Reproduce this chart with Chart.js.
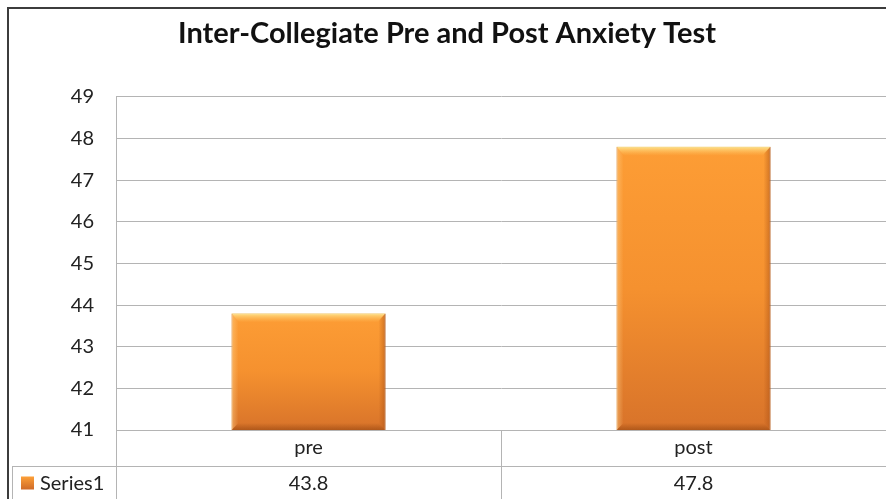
<!DOCTYPE html>
<html>
<head>
<meta charset="utf-8">
<title>Inter-Collegiate Pre and Post Anxiety Test</title>
<script src="https://cdn.jsdelivr.net/npm/chart.js@4/dist/chart.umd.min.js"></script>
<style>
  html, body { margin: 0; padding: 0; background: #fff; }
  #wrap { position: relative; width: 886px; height: 499px; }
</style>
</head>
<body>
<div id="wrap"><canvas id="chart" width="886" height="499"></canvas></div>
<script>
// chart data
const categories = ['pre', 'post'];
const seriesName = 'Series1';
const seriesValues = [43.8, 47.8];
const yTicks = [41, 42, 43, 44, 45, 46, 47, 48, 49];

const FONT = 'Lato, "Open Sans", sans-serif';
const GRID = '#b4b4b4';
const TEXT = '#222';

// vertical orange gradient, light at the top of each bar, darker at the base
function barFill(ctx) {
  const chart = ctx.chart;
  const area = chart.chartArea;
  const y = chart.scales.y;
  if (!area || !y || !ctx.parsed) return '#f7962f';
  const top = y.getPixelForValue(ctx.parsed.y);
  const g = chart.ctx.createLinearGradient(0, top, 0, area.bottom);
  g.addColorStop(0, '#fd9d35');
  g.addColorStop(0.5, '#f5912f');
  g.addColorStop(1, '#d8732a');
  return g;
}

// outer frame of the chart
const framePlugin = {
  id: 'frame',
  beforeDraw(chart) {
    const c = chart.ctx;
    c.save();
    c.strokeStyle = '#3c3c3c';
    c.lineWidth = 2;
    c.beginPath();
    c.moveTo(8, chart.height);
    c.lineTo(8, 8);
    c.lineTo(chart.width, 8);
    c.stroke();
    c.restore();
  }
};

// light top edge and dark side edges on the bars
const bevelPlugin = {
  id: 'bevel',
  afterDatasetsDraw(chart) {
    const c = chart.ctx;
    const bottom = chart.chartArea.bottom;
    chart.getDatasetMeta(0).data.forEach(bar => {
      const l = bar.x - bar.width / 2, r = bar.x + bar.width / 2;
      const t = bar.y, b = Math.min(bar.base, bottom);
      c.save();
      let g = c.createLinearGradient(0, t, 0, t + 9);
      g.addColorStop(0, 'rgba(255,235,150,0.9)');
      g.addColorStop(1, 'rgba(255,200,100,0)');
      c.fillStyle = g;
      c.beginPath();
      c.moveTo(l, t); c.lineTo(r, t); c.lineTo(r - 8, t + 9); c.lineTo(l + 8, t + 9); c.closePath();
      c.fill();
      g = c.createLinearGradient(r - 7, 0, r, 0);
      g.addColorStop(0, 'rgba(170,80,20,0)');
      g.addColorStop(1, 'rgba(170,80,20,0.55)');
      c.fillStyle = g;
      c.beginPath();
      c.moveTo(r, t); c.lineTo(r, b); c.lineTo(r - 7, b - 7); c.lineTo(r - 7, t + 7); c.closePath();
      c.fill();
      g = c.createLinearGradient(0, b - 7, 0, b);
      g.addColorStop(0, 'rgba(150,70,15,0)');
      g.addColorStop(1, 'rgba(150,70,15,0.6)');
      c.fillStyle = g;
      c.beginPath();
      c.moveTo(l, b); c.lineTo(r, b); c.lineTo(r - 7, b - 7); c.lineTo(l + 7, b - 7); c.closePath();
      c.fill();
      g = c.createLinearGradient(l, 0, l + 7, 0);
      g.addColorStop(0, 'rgba(255,210,140,0.5)');
      g.addColorStop(1, 'rgba(255,210,140,0)');
      c.fillStyle = g;
      c.beginPath();
      c.moveTo(l, t); c.lineTo(l, b); c.lineTo(l + 7, b - 7); c.lineTo(l + 7, t + 7); c.closePath();
      c.fill();
      c.restore();
    });
  }
};

// data table under the plot: category row and Series1 row
const tablePlugin = {
  id: 'dataTable',
  afterDraw(chart) {
    const c = chart.ctx;
    const area = chart.chartArea;
    const x = chart.scales.x;
    const row1 = area.bottom, row2 = area.bottom + 36, end = chart.height;
    c.save();
    c.strokeStyle = GRID;
    c.lineWidth = 1;
    c.beginPath();
    c.moveTo(area.left, row1 + 0.5); c.lineTo(area.right, row1 + 0.5);
    c.moveTo(12, row2 + 0.5); c.lineTo(area.right, row2 + 0.5);
    c.moveTo(area.left + 0.5, area.top); c.lineTo(area.left + 0.5, end);
    c.moveTo(12.5, row2); c.lineTo(12.5, end);
    for (let i = 1; i < categories.length; i++) {
      const xb = Math.round((x.getPixelForValue(i - 1) + x.getPixelForValue(i)) / 2) + 0.5;
      c.moveTo(xb, row1); c.lineTo(xb, end);
    }
    c.stroke();

    c.fillStyle = TEXT;
    c.font = '20px ' + FONT;
    c.textAlign = 'center';
    c.textBaseline = 'middle';
    categories.forEach((cat, i) => {
      const cx = x.getPixelForValue(i);
      c.fillText(cat, cx, (row1 + row2) / 2);
      c.fillText(seriesValues[i].toFixed(1), cx, (row2 + end) / 2 + 1);
    });

    // legend key
    const ky = (row2 + end) / 2 - 6;
    const g = c.createLinearGradient(0, ky, 0, ky + 13);
    g.addColorStop(0, '#fda038');
    g.addColorStop(1, '#cf6a28');
    c.fillStyle = g;
    c.fillRect(21, ky, 13, 13);
    c.fillStyle = TEXT;
    c.textAlign = 'left';
    c.fillText(seriesName, 40, (row2 + end) / 2 + 1);
    c.restore();
  }
};

new Chart(document.getElementById('chart'), {
  type: 'bar',
  data: {
    labels: categories,
    datasets: [{
      label: seriesName,
      data: seriesValues,
      backgroundColor: barFill,
      borderColor: '#c8691f',
      borderWidth: 1,
      borderSkipped: false,
      categoryPercentage: 0.8,
      barPercentage: 0.5
    }]
  },
  options: {
    responsive: false,
    animation: false,
    layout: { padding: { top: 0, left: 8, right: 0, bottom: 69 } },
    plugins: {
      legend: { display: false },
      tooltip: { enabled: false },
      title: {
        display: true,
        text: 'Inter-Collegiate Pre and Post Anxiety Test',
        color: '#111',
        font: { family: FONT, size: 29, weight: 'bold' },
        padding: { top: 16, bottom: 46 }
      }
    },
    scales: {
      x: {
        display: false,
        offset: true
      },
      y: {
        min: 41,
        max: 49,
        afterBuildTicks(scale) { scale.ticks = yTicks.map(v => ({ value: v })); },
        afterFit(scale) { scale.width = 108; },
        border: { display: true, color: GRID },
        grid: { color: GRID, drawTicks: false },
        ticks: {
          color: TEXT,
          padding: 22,
          font: { family: FONT, size: 20 }
        }
      }
    }
  },
  plugins: [framePlugin, bevelPlugin, tablePlugin]
});
</script>
</body>
</html>
